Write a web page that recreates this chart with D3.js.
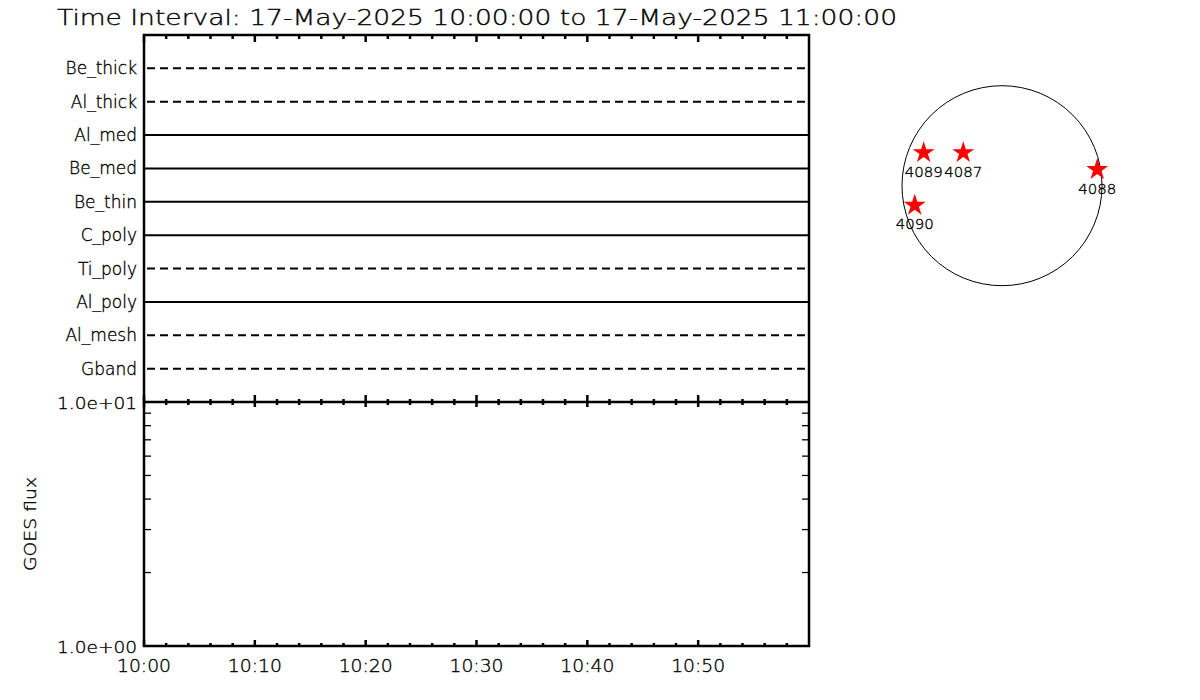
<!DOCTYPE html>
<html><head><meta charset="utf-8">
<script src="https://cdn.jsdelivr.net/npm/d3@7"></script>
<style>body{margin:0;background:#fff}svg{display:block}text{font-family:"DejaVu Sans",sans-serif;font-weight:200;fill:#000;stroke:#000;stroke-width:0.35}</style>
</head><body><svg id="c" width="1200" height="700"></svg>
<script>
const titleText = "Time Interval: 17-May-2025 10:00:00 to 17-May-2025 11:00:00";
const filters = ["Be_thick","Al_thick","Al_med","Be_med","Be_thin","C_poly","Ti_poly","Al_poly","Al_mesh","Gband"];
const filterDashed = [true,true,false,false,false,false,true,false,true,true];
const timeStart = "2025-05-17T10:00:00";
const timeEnd = "2025-05-17T11:00:00";
const timeTickLabels = ["10:00","10:10","10:20","10:30","10:40","10:50"];
const fluxDomain = [1, 10];
const fluxTickLabels = ["1.0e+00","1.0e+01"];
const yLabel = "GOES flux";
const regions = ["4089","4087","4088","4090"];
const regionX = [-744,-368,905,-829];   // arcsec
const regionY = [323,323,162,-177];     // arcsec
const solarRadius = 950;

const svg = d3.select("#c");
const L = 144, R = 809, T = 35, M = 402, B = 646;
const t0 = new Date(timeStart), t1 = new Date(timeEnd);
const x = d3.scaleTime().domain([t0, t1]).range([L, R]);
const yb = d3.scalePoint().domain(filters).range([T, M]).padding(1);
const yl = d3.scaleLog().domain(fluxDomain).range([B, M]);

// title
svg.append("text").attr("x",57).attr("y",25).attr("font-size",21)
  .attr("textLength",840).attr("lengthAdjust","spacingAndGlyphs").text(titleText);

// filter lines
filters.forEach((f,i)=>{
  const yy = yb(f);
  svg.append("line").attr("x1",L+ (filterDashed[i]?3:0)).attr("x2",R).attr("y1",yy).attr("y2",yy)
    .attr("stroke","#000").attr("stroke-width",2)
    .attr("stroke-dasharray",filterDashed[i]?"8,5":null);
  svg.append("text").attr("x",137).attr("y",yy+6).attr("text-anchor","end").attr("font-size",17)
    .text(f);
});

// ticks
const minor = d3.timeMinute.every(2).range(t0, t1);
const major = d3.timeMinute.every(10).range(t0, t1);
const tk = svg.append("g").attr("stroke","#000").attr("stroke-width",2.5);
minor.forEach(d=>{
  const isMaj = d.getMinutes()%10===0;
  const xx = x(d);
  tk.append("line").attr("x1",xx).attr("x2",xx).attr("y1",T).attr("y2",T+(isMaj?7:4));
  tk.append("line").attr("x1",xx).attr("x2",xx).attr("y1",M-(isMaj?7:3)).attr("y2",M+(isMaj?5:3));
  tk.append("line").attr("x1",xx).attr("x2",xx).attr("y1",B).attr("y2",B-(isMaj?6:3));
});
// time labels
major.forEach((d,i)=>{
  svg.append("text").attr("x",x(d)).attr("y",672).attr("text-anchor","middle").attr("font-size",17)
    .attr("textLength",54).attr("lengthAdjust","spacingAndGlyphs").text(timeTickLabels[i]);
});
// log minor ticks
const logMinor = d3.range(2,10);
logMinor.forEach(v=>{
  const yy = yl(v);
  svg.append("line").attr("x1",L).attr("x2",L+7).attr("y1",yy).attr("y2",yy).attr("stroke","#000").attr("stroke-width",1.3);
  svg.append("line").attr("x1",R).attr("x2",R-7).attr("y1",yy).attr("y2",yy).attr("stroke","#000").attr("stroke-width",1.3);
});
fluxDomain.forEach((v,i)=>{
  svg.append("text").attr("x",137).attr("y",yl(v)+7).attr("text-anchor","end").attr("font-size",16.5)
    .attr("textLength",80).attr("lengthAdjust","spacingAndGlyphs").text(fluxTickLabels[i]);
});
svg.append("text").attr("transform",`translate(36,${(M+B)/2}) rotate(-90)`).attr("text-anchor","middle")
  .attr("font-size",16).attr("textLength",94).attr("lengthAdjust","spacingAndGlyphs").text(yLabel);

// frames
svg.append("rect").attr("x",L).attr("y",T).attr("width",R-L).attr("height",B-T)
  .attr("fill","none").attr("stroke","#000").attr("stroke-width",2.5);
svg.append("line").attr("x1",L).attr("x2",R).attr("y1",M).attr("y2",M).attr("stroke","#000").attr("stroke-width",2.5);

// solar disk
const sx = d3.scaleLinear().domain([-solarRadius, solarRadius]).range([902, 1102]);
const sy = d3.scaleLinear().domain([solarRadius, -solarRadius]).range([85.7, 285.7]);
svg.append("circle").attr("cx",sx(0)).attr("cy",sy(0)).attr("r",sx(solarRadius)-sx(0))
  .attr("fill","none").attr("stroke","#000").attr("stroke-width",1);
const star = d3.symbol().type(d3.symbolStar).size(150);
regions.forEach((r,i)=>{
  const cx = sx(regionX[i]), cy = sy(regionY[i]);
  svg.append("path").attr("d",star()).attr("transform",`translate(${cx},${cy+1})`).attr("fill","#ff0000");
  svg.append("text").attr("x",cx).attr("y",cy+25).attr("text-anchor","middle").attr("font-size",14.5)
    .attr("textLength",38).attr("lengthAdjust","spacingAndGlyphs").text(r);
});
</script></body></html>
